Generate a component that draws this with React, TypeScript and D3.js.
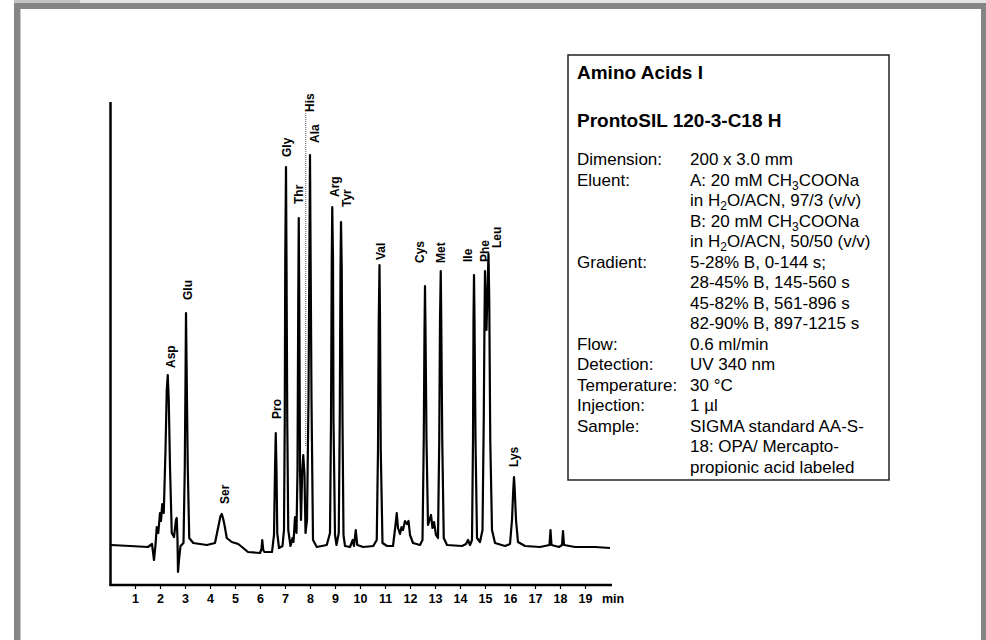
import React from "react";
import * as d3 from "d3";

// ---- data ----
const tickMinutes = [1, 2, 3, 4, 5, 6, 7, 8, 9, 10, 11, 12, 13, 14, 15, 16, 17, 18, 19];

// chromatogram trace: [time (min), signal (a.u.)]
const trace: [number, number][] = [
  [0.02, 0], [0.78, -0.5], [1.5, -1], [1.66, 0.5], [1.74, -7.5], [1.8, 0], [1.85, 9], [1.91, 6],
  [1.98, 16], [2.02, 12], [2.07, 20.5], [2.13, 16], [2.2, 47.5], [2.25, 77.5], [2.29, 85], [2.33, 72.5],
  [2.38, 39], [2.45, 6], [2.54, 4], [2.62, 12.5], [2.65, 13.5], [2.68, 2.5], [2.7, -13.5], [2.74, -7.5],
  [2.8, -0.5], [2.92, 1], [2.97, 37.5], [3.0, 82.5], [3.02, 116], [3.05, 82.5], [3.09, 39], [3.15, 3.5],
  [3.31, 1], [3.85, 0], [4.18, 1], [4.31, 9], [4.4, 14.5], [4.45, 15.5], [4.5, 13.5], [4.56, 10],
  [4.65, 3.5], [4.85, 1.5], [5.11, 0.5], [5.26, -1], [5.5, -3.5], [5.98, -4], [6.04, -2], [6.07, 2.5],
  [6.11, -2.5], [6.16, -3.5], [6.46, -3.5], [6.54, 5], [6.58, 37.5], [6.61, 56], [6.64, 37.5], [6.67, 6],
  [6.74, -1.5], [6.88, -0.5], [6.94, 7.5], [6.97, 62.5], [6.99, 142.5], [7.02, 189], [7.04, 142.5],
  [7.07, 62.5], [7.11, 7.5], [7.2, -0.5], [7.28, 3.5], [7.32, 1.5], [7.38, 14], [7.44, 6], [7.48, 37.5],
  [7.51, 122.5], [7.53, 163.5], [7.55, 122.5], [7.58, 37.5], [7.62, 12.5], [7.67, 37.5], [7.71, 45],
  [7.76, 35], [7.8, 6], [7.86, 12.5], [7.92, 72.5], [7.96, 152.5], [7.98, 195], [8.0, 152.5], [8.04, 72.5],
  [8.1, 2.5], [8.25, -1], [8.65, 0], [8.78, 6], [8.82, 62.5], [8.85, 142.5], [8.87, 169], [8.9, 142.5],
  [8.92, 62.5], [8.98, 5], [9.04, 0], [9.13, 6], [9.17, 62.5], [9.2, 137.5], [9.22, 161.5], [9.25, 137.5],
  [9.28, 62.5], [9.32, 5], [9.38, -0.5], [9.58, -1], [9.69, 2.5], [9.74, -0.5], [9.81, 7.5], [9.87, 0],
  [10.11, -1], [10.51, -0.5], [10.65, 2.5], [10.7, 47.5], [10.73, 112.5], [10.76, 140], [10.78, 112.5],
  [10.81, 47.5], [10.88, 1], [11.06, -0.5], [11.3, -0.5], [11.4, 10], [11.45, 16], [11.5, 8.5], [11.58, 5.5],
  [11.64, 9], [11.7, 7.5], [11.78, 12], [11.86, 10.5], [11.92, 12], [11.98, 5], [12.1, 1], [12.38, 0],
  [12.48, 2.5], [12.53, 52.5], [12.56, 107.5], [12.58, 129.5], [12.6, 107.5], [12.64, 52.5], [12.7, 10],
  [12.76, 12.5], [12.82, 15], [12.88, 8.5], [12.94, 11.5], [13.02, 5], [13.1, 3.5], [13.15, 52.5],
  [13.18, 112.5], [13.21, 137], [13.23, 112.5], [13.27, 52.5], [13.33, 3.5], [13.46, 0], [14.06, -0.5],
  [14.22, 0.5], [14.3, 2.5], [14.38, 0], [14.46, 2.5], [14.5, 52.5], [14.52, 112.5], [14.54, 135],
  [14.56, 112.5], [14.6, 52.5], [14.66, 3.5], [14.78, 1.5], [14.88, 7.5], [14.93, 62.5], [14.96, 112.5],
  [14.98, 137], [15.0, 122.5], [15.04, 107.5], [15.08, 127.5], [15.12, 145.5], [15.15, 122.5],
  [15.19, 52.5], [15.26, 7.5], [15.38, 1], [15.78, -0.5], [15.98, 0.5], [16.06, 12.5], [16.11, 27.5],
  [16.14, 34], [16.17, 27.5], [16.22, 12.5], [16.3, 1.5], [16.58, -0.5], [17.18, -1], [17.56, 0],
  [17.6, 7.5], [17.64, 0], [17.94, -1], [18.06, 0], [18.1, 7], [18.14, 0], [18.58, -1], [19.38, -1],
  [19.98, -1.5],
];

// peak labels
const peakNames = ["Asp", "Glu", "Ser", "Pro", "Gly", "Thr", "His", "Ala", "Arg", "Tyr", "Val", "Cys", "Met", "Ile", "Phe", "Leu", "Lys"];
const labelTimes = [2.41, 3.1, 4.58, 6.65, 7.05, 7.54, 7.98, 8.18, 8.98, 9.45, 10.82, 12.38, 13.22, 14.3, 14.96, 15.46, 16.14];
const labelLevels = [88.5, 122.5, 20.5, 63, 194, 170.5, 216.5, 201, 174, 169, 142.5, 141, 141, 141.5, 141.5, 148.5, 39];

// dotted marker for His
const hisTime = 7.81;
const hisFrom = 49;
const hisTo = 216;

// info box
const boxTitle = "Amino Acids I";
const boxColumn = "ProntoSIL 120-3-C18 H";
const infoKeys = ["Dimension:", "Eluent:", "", "", "", "Gradient:", "", "", "", "Flow:", "Detection:", "Temperature:", "Injection:", "Sample:", "", ""];
const infoValues = [
  "200 x 3.0 mm",
  "A: 20 mM CH_3COONa",
  "in H_2O/ACN, 97/3 (v/v)",
  "B: 20 mM CH_3COONa",
  "in H_2O/ACN, 50/50 (v/v)",
  "5-28% B, 0-144 s;",
  "28-45% B, 145-560 s",
  "45-82% B, 561-896 s",
  "82-90% B, 897-1215 s",
  "0.6 ml/min",
  "UV 340 nm",
  "30 °C",
  "1 µl",
  "SIGMA standard AA-S-",
  "18: OPA/ Mercapto-",
  "propionic acid labeled",
];

const FONT = "'Liberation Sans', Arial, Helvetica, sans-serif";

function SubText({ value }: { value: string }) {
  const parts = value.split(/_(\d)/);
  const out: React.ReactNode[] = [];
  let shifted = false;
  parts.forEach((p, i) => {
    if (i % 2 === 1) {
      out.push(
        <tspan key={i} fontSize={12} dy={4}>
          {p}
        </tspan>
      );
      shifted = true;
    } else if (p.length) {
      out.push(
        <tspan key={i} dy={shifted ? -4 : 0}>
          {p}
        </tspan>
      );
      shifted = false;
    }
  });
  return <>{out}</>;
}

export default function App() {
  const W = 986;
  const H = 640;
  const x = d3.scaleLinear().domain([0, 20.06]).range([110.5, 612]);
  const y = d3.scaleLinear().domain([-20, 221.5]).range([585, 102]);
  const line = d3
    .line<[number, number]>()
    .x((d) => x(d[0]))
    .y((d) => y(d[1]));

  const axisY = y(-20);
  const axisX = x(0);

  const boxX = 568;
  const boxY = 55;
  const boxW = 321;
  const boxH = 425;
  const keyX = 577;
  const valX = 690;
  const firstRow = 165;
  const pitch = 20.5;

  return (
    <svg
      width={W}
      height={H}
      style={{ position: "absolute", left: 0, top: 0, background: "#fff" }}
      fontFamily={FONT}
    >
      {/* frame */}
      <rect x={14} y={0} width={66} height={3} fill="#c4c4c4" />
      <rect x={80} y={0} width={906} height={3} fill="#e4e4e4" />
      <rect x={14} y={3} width={972} height={H} fill="#858585" />
      <rect x={20} y={9} width={961} height={H} fill="#ffffff" />
      <line x1={20.5} y1={9} x2={20.5} y2={H} stroke="#c8c8c8" strokeWidth={1} />

      {/* axes */}
      <line x1={axisX} y1={y(221.5)} x2={axisX} y2={axisY} stroke="#000" strokeWidth={2.5} />
      <line x1={axisX - 1.2} y1={axisY} x2={x(20.06)} y2={axisY} stroke="#000" strokeWidth={2.5} />
      {tickMinutes.map((t) => (
        <g key={t}>
          <line x1={x(t)} y1={axisY} x2={x(t)} y2={axisY + 4} stroke="#000" strokeWidth={1.2} />
          <text x={x(t)} y={603} textAnchor="middle" fontSize={12.5} fontWeight="bold" fill="#000">
            {t}
          </text>
        </g>
      ))}
      <text x={602} y={603} fontSize={12.5} fontWeight="bold" fill="#000">
        min
      </text>

      {/* His marker */}
      <line
        x1={x(hisTime)}
        y1={y(hisTo)}
        x2={x(hisTime)}
        y2={y(hisFrom)}
        stroke="#555"
        strokeWidth={1}
        strokeDasharray="1,1"
      />

      {/* trace */}
      <path d={line(trace) || ""} fill="none" stroke="#000" strokeWidth={2.2} strokeLinejoin="round" />

      {/* peak labels */}
      {peakNames.map((n, i) => (
        <text
          key={n}
          transform={`translate(${x(labelTimes[i])},${y(labelLevels[i])}) rotate(-90)`}
          fontSize={12}
          fontWeight="bold"
          dominantBaseline="central"
          fill="#000"
        >
          {n}
        </text>
      ))}

      {/* info box */}
      <rect x={boxX} y={boxY} width={boxW} height={boxH} fill="#fff" stroke="#222" strokeWidth={1.5} />
      <text x={keyX} y={79} fontSize={19} fontWeight="bold" fill="#000">
        {boxTitle}
      </text>
      <text x={keyX} y={127} fontSize={19} fontWeight="bold" fill="#000">
        {boxColumn}
      </text>
      {infoValues.map((v, i) => (
        <g key={i}>
          {infoKeys[i] && (
            <text x={keyX} y={firstRow + i * pitch} fontSize={17} fill="#000">
              {infoKeys[i]}
            </text>
          )}
          <text x={valX} y={firstRow + i * pitch} fontSize={17} fill="#000">
            <SubText value={v} />
          </text>
        </g>
      ))}
    </svg>
  );
}
